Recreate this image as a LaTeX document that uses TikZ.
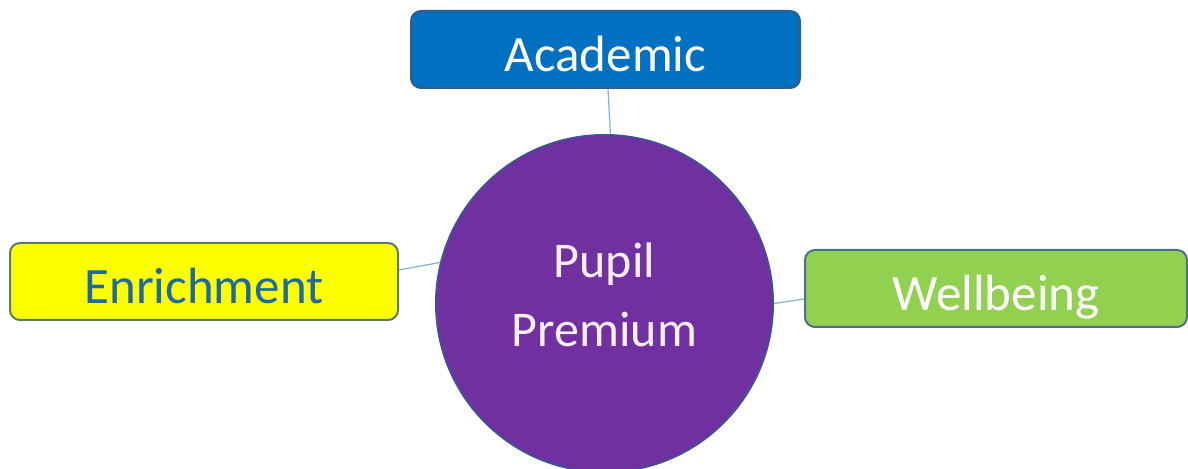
\documentclass[tikz,border=0pt]{standalone}
\usepackage{fontspec}
\setmainfont{Carlito}
\definecolor{acadfill}{HTML}{0070C0}
\definecolor{acadline}{HTML}{2E5F8C}
\definecolor{enrfill}{HTML}{FFFF00}
\definecolor{enrline}{HTML}{5A7A70}
\definecolor{enrtext}{HTML}{1B6AA6}
\definecolor{wellfill}{HTML}{92D050}
\definecolor{wellline}{HTML}{4A7090}
\definecolor{ppfill}{HTML}{7030A0}
\definecolor{ppline}{HTML}{42509A}
\definecolor{pptext}{HTML}{FBEFFA}
\definecolor{conn}{HTML}{86AECF}
\tikzset{
  topicbox/.style={draw, line width=1pt, rounded corners=5pt, minimum height=38.5pt,
    font=\fontsize{25.5}{30}\selectfont, text height=22pt, text depth=0pt, inner sep=2pt},
  connector/.style={draw=conn, line width=0.6pt},
}
\begin{document}
\begin{tikzpicture}[x=0.5pt,y=-0.5pt]
\useasboundingbox (0,0) rectangle (1188,469);
\node[circle, draw=ppline, line width=1pt, fill=ppfill, minimum size=168.5pt, inner sep=0pt,
  label={[font=\fontsize{25}{34.5}\selectfont, text=pptext, align=center, yshift=4.25pt]center:{Pupil\\Premium}}]
  (pp) at (604.5,303.5) {};
\node[topicbox, fill=acadfill, draw=acadline, text=white, minimum width=194.5pt] (acad) at (605.5,49.5) {Academic};
\node[topicbox, fill=enrfill, draw=enrline, text=enrtext, minimum width=194pt] (enr) at (204,281.5) {Enrichment};
\node[topicbox, fill=wellfill, draw=wellline, text=white, minimum width=191pt] (well) at (996,288.5) {Wellbeing};
\draw[connector] ([xshift=1.25pt]acad.south) -- (pp.88.8);
\draw[connector] ([yshift=5.75pt]enr.east) -- (pp.166);
\draw[connector] ([yshift=-5.25pt]well.west) -- (pp.0.5);
\end{tikzpicture}
\end{document}
